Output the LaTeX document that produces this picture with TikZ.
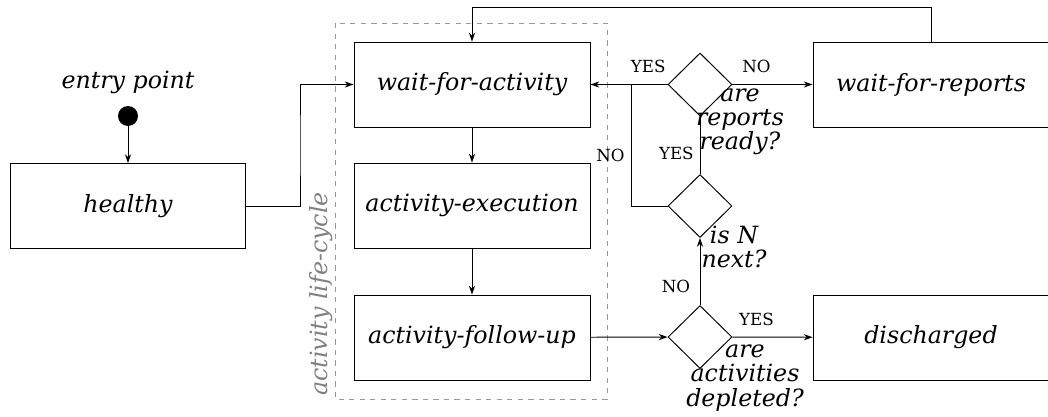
\documentclass[tikz,border=0pt]{standalone}
\usepackage{fontspec}
\setmainfont{DejaVu Serif}
\usetikzlibrary{arrows.meta,shapes.geometric,calc}

\tikzset{
  state/.style={draw, minimum width=4.72cm, minimum height=1.7cm,
    font=\fontsize{13.5}{15}\selectfont\itshape},
  choice/.style={draw, diamond, minimum width=1.28cm, minimum height=1.26cm, inner sep=0pt},
  question/.style={align=center, font=\fontsize{13.5}{13.8}\selectfont\itshape},
  answer/.style={font=\fontsize{9.5}{11}\selectfont},
  flow/.style={-{Stealth[length=5pt,width=3.5pt]}},
}

\begin{document}
\begin{tikzpicture}[x=0.02cm, y=-0.02cm, line width=0.55pt]
  \useasboundingbox (0,0) rectangle (1048,416);
  % life-cycle frame
  \draw[gray!80, dashed, line width=0.5pt] (335,23) rectangle (607,399);
  \node[rotate=90, text=gray, font=\fontsize{13.5}{15}\selectfont\itshape] (cycle) at (321,294) {activity life-cycle};
  % states
  \node[state] (healthy) at (128,206) {healthy};
  \node[state] (waitact) at (472,84.5) {wait-for-activity};
  \node[state] (exec) at (472,205.5) {activity-execution};
  \node[state] (followup) at (472,337.5) {activity-follow-up};
  \node[state] (waitrep) at (931,84.5) {wait-for-reports};
  \node[state] (discharged) at (931,337.5) {discharged};
  % entry
  \node[circle, fill, minimum size=0.4cm, inner sep=0pt] (entry) at (128,116) {};
  \node[font=\fontsize{13.5}{15}\selectfont\itshape] (entrytxt) at (128,82) {entry point};
  % decisions
  \node[choice] (qready) at (700,84.5) {};
  \node[choice] (qnext) at (700,206) {};
  \node[choice] (qdepleted) at (700,337) {};
  \node[question] (qreadytxt) at (740,122) {are\\reports\\ready?};
  \node[question] (qnexttxt) at (734,247) {is N\\next?};
  \node[question] (qdepletedtxt) at (745,378) {are\\activities\\depleted?};
  \coordinate (back) at (631,84.5);
  % connectors
  \draw[flow] (entry) -- (healthy);
  \draw[flow] (healthy.east) -| ($(healthy.east)!.5!(waitact.west)$) |- (waitact.west);
  \draw[flow] (waitact) -- (exec);
  \draw[flow] (exec) -- (followup);
  \draw[flow] (followup) -- (qdepleted);
  \draw[flow] (qdepleted) -- (discharged)node[answer, pos=0.3, above=3pt]{YES};
  \draw[flow] (qdepleted) -- (qnext)node[answer, pos=0.28, left=2pt]{NO};
  \draw (qnext) -- (qready)node[answer, pos=0.35, left=0pt]{YES};
  \draw (qnext.west) -| (back)node[answer, pos=0.71, left=0pt]{NO};
  \draw[flow] (qready) -- (waitact)node[answer, pos=0.25, above=3pt]{YES};
  \draw[flow] (qready) -- (waitrep)node[answer, pos=0.3, above=3pt]{NO};
  \draw[flow] (waitrep.north) -- ++(0,-34) -| (waitact.north);
\end{tikzpicture}
\end{document}
